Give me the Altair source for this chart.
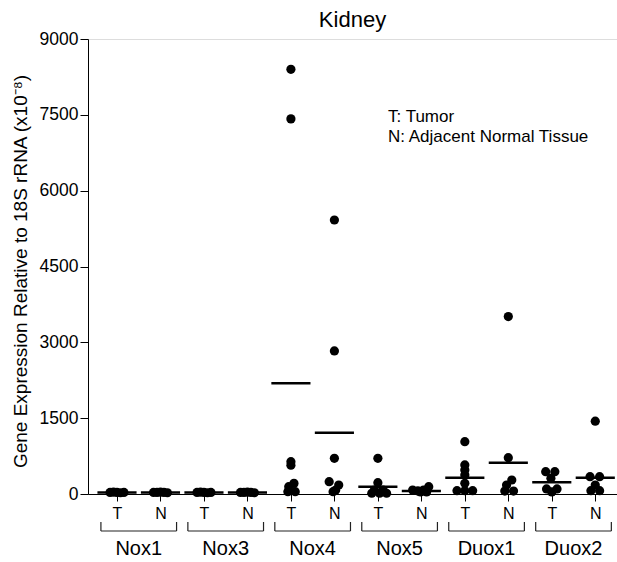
import altair as alt
import pandas as pd

FONT = "Liberation Sans"

genes = ["Nox1", "Nox3", "Nox4", "Nox5", "Duox1", "Duox2"]
tissues = ["T", "N"]

# values (x10^-8) and small horizontal scatter (in category units)
nox1_t = [30, 35, 30, 25, 30]
nox1_t_jit = [-0.16, -0.08, 0.0, 0.08, 0.16]
nox1_n = [30, 30, 35, 30, 25]
nox1_n_jit = [-0.16, -0.08, 0.0, 0.08, 0.16]
nox3_t = [30, 35, 30, 25, 30]
nox3_t_jit = [-0.16, -0.08, 0.0, 0.08, 0.16]
nox3_n = [30, 30, 35, 30, 25]
nox3_n_jit = [-0.16, -0.08, 0.0, 0.08, 0.16]
nox4_t = [8400, 7420, 640, 570, 210, 145, 45, 45]
nox4_t_jit = [0.0, 0.0, 0.0, 0.0, 0.07, -0.05, -0.07, 0.1]
nox4_n = [5420, 2830, 706, 243, 178, 79, 45]
nox4_n_jit = [0.0, 0.0, 0.0, -0.12, 0.1, 0.03, -0.03]
nox5_t = [706, 224, 79, 79, 15, 15, 15]
nox5_t_jit = [0.0, 0.0, -0.08, 0.12, -0.14, 0.04, 0.2]
nox5_n = [145, 79, 79, 60, 40, 40]
nox5_n_jit = [0.17, -0.2, 0.05, -0.08, 0.12, -0.02]
duox1_t = [1035, 574, 475, 376, 211, 65, 65, 65]
duox1_t_jit = [0.0, 0.0, 0.0, 0.0, 0.0, -0.18, 0.0, 0.18]
duox1_n = [3510, 718, 277, 178, 59, 59]
duox1_n_jit = [0.0, 0.0, 0.08, -0.04, -0.08, 0.12]
duox2_t = [441, 441, 310, 100, 100, 40]
duox2_t_jit = [-0.14, 0.07, -0.02, -0.12, 0.12, 0.0]
duox2_n = [1440, 343, 343, 178, 65, 65]
duox2_n_jit = [0.0, -0.12, 0.1, 0.0, -0.1, 0.1]

# group means (horizontal bars)
mean_t = [30, 30, 2190, 145, 323, 231]
mean_n = [30, 30, 1213, 60, 620, 323]

series = {
    ("Nox1", "T"): (nox1_t, nox1_t_jit), ("Nox1", "N"): (nox1_n, nox1_n_jit),
    ("Nox3", "T"): (nox3_t, nox3_t_jit), ("Nox3", "N"): (nox3_n, nox3_n_jit),
    ("Nox4", "T"): (nox4_t, nox4_t_jit), ("Nox4", "N"): (nox4_n, nox4_n_jit),
    ("Nox5", "T"): (nox5_t, nox5_t_jit), ("Nox5", "N"): (nox5_n, nox5_n_jit),
    ("Duox1", "T"): (duox1_t, duox1_t_jit), ("Duox1", "N"): (duox1_n, duox1_n_jit),
    ("Duox2", "T"): (duox2_t, duox2_t_jit), ("Duox2", "N"): (duox2_n, duox2_n_jit),
}

rows, mrows, grows = [], [], []
for gi, g in enumerate(genes):
    for ti, t in enumerate(tissues):
        pos = gi * 2 + ti + 1
        vals, jits = series[(g, t)]
        for v, j in zip(vals, jits):
            rows.append({"gene": g, "tissue": t, "pos": pos, "value": v, "jit": j})
        mrows.append({"gene": g, "tissue": t, "pos": pos,
                      "mean": (mean_t if t == "T" else mean_n)[gi]})
    grows.append({"gene": g, "left": gi * 2 + 1 - 0.37, "right": gi * 2 + 2 + 0.37,
                  "mid": gi * 2 + 1.5})

df = pd.DataFrame(rows)
mdf = pd.DataFrame(mrows)
gdf = pd.DataFrame(grows)

W, H = 529, 455

xscale = alt.Scale(domain=[0.333, 12.5], nice=False, zero=False)
yscale = alt.Scale(domain=[0, 9000], nice=False)
xaxis = alt.Axis(values=list(range(1, 13)), labelExpr="datum.value % 2 == 1 ? 'T' : 'N'",
                 title=None, grid=False, tickSize=7, labelFontSize=16, labelPadding=4,
                 labelFont=FONT, labelColor="black", domainColor="black", tickColor="black",
                 labelAngle=0)
yaxis = alt.Axis(values=[0, 1500, 3000, 4500, 6000, 7500, 9000], format="d", grid=False,
                 tickSize=8, labelFontSize=17.5, labelPadding=2, labelFont=FONT,
                 labelColor="black", domainColor="black", tickColor="black",
                 title="Gene Expression Relative to 18S rRNA (x10⁻⁸)",
                 titleFont=FONT, titleFontSize=19, titleFontWeight="normal", titleColor="black",
                 titleX=-68, titleY=232, titleAngle=-90, titleBaseline="middle", titleAlign="center")

points = alt.Chart(df).transform_calculate(xp="datum.pos + datum.jit").mark_circle(
    size=85, color="black", opacity=1
).encode(
    x=alt.X("xp:Q", scale=xscale, axis=xaxis),
    y=alt.Y("value:Q", scale=yscale, axis=yaxis),
)

means = alt.Chart(mdf).transform_calculate(
    x1="datum.pos - 0.45", x2="datum.pos + 0.45"
).mark_rule(color="black", strokeWidth=2.5).encode(
    x=alt.X("x1:Q", scale=xscale, axis=xaxis),
    x2="x2:Q",
    y=alt.Y("mean:Q", scale=yscale, axis=yaxis),
)

br_h = alt.Chart(gdf).mark_rule(color="#222", strokeWidth=1.2).encode(
    x=alt.X("left:Q", scale=xscale, axis=xaxis), x2="right:Q", y=alt.value(492)
)
br_l = alt.Chart(gdf).mark_rule(color="#222", strokeWidth=1.2).encode(
    x=alt.X("left:Q", scale=xscale, axis=xaxis), y=alt.value(483), y2=alt.value(492)
)
br_r = alt.Chart(gdf).mark_rule(color="#222", strokeWidth=1.2).encode(
    x=alt.X("right:Q", scale=xscale, axis=xaxis), y=alt.value(483), y2=alt.value(492)
)
glabels = alt.Chart(gdf).mark_text(
    font=FONT, fontSize=20, color="black", baseline="alphabetic", align="center"
).encode(x=alt.X("mid:Q", scale=xscale, axis=xaxis), y=alt.value(516), text="gene:N")

note_lines = ["T: Tumor", "N: Adjacent Normal Tissue"]
notes = pd.DataFrame({"line": ["\n".join(note_lines)]})
note = alt.Chart(notes).mark_text(
    font=FONT, fontSize=17, color="black", align="left", baseline="alphabetic",
    lineBreak="\n", lineHeight=19.5
).encode(x=alt.value(300), y=alt.value(83), text="line:N")

chart = alt.layer(points, means, br_h, br_l, br_r, glabels, note).properties(
    width=W, height=H,
    title=alt.TitleParams("Kidney", font=FONT, fontSize=22, fontWeight="normal",
                          color="black", anchor="middle", offset=-2),
    padding={"left": 88, "top": 39, "right": 0, "bottom": 68},
    autosize=alt.AutoSizeParams(type="none"),
).configure_view(stroke=None).configure(background="white")

chart.save("out.html", embed_options={"renderer": "svg", "actions": False})
